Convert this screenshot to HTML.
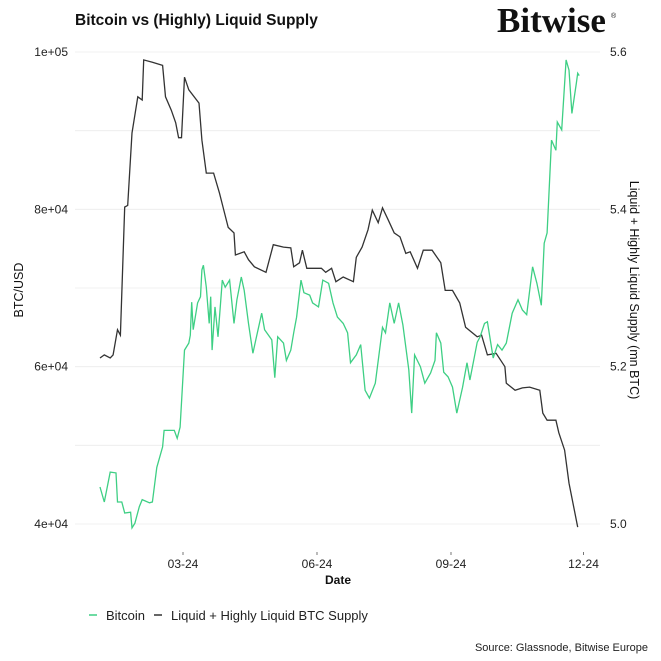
<!DOCTYPE html>
<html><head><meta charset="utf-8"><style>
html,body{margin:0;padding:0;background:#fff;}
svg{display:block;font-family:"Liberation Sans",Arial,sans-serif;}
</style></head><body>
<svg id="chart" width="661" height="661" viewBox="0 0 661 661">
<text x="75" y="25" font-size="15.5" font-weight="bold" fill="#111">Bitcoin vs (Highly) Liquid Supply</text>
<text x="497" y="32" font-family="Liberation Serif, serif" font-size="35" font-weight="bold" fill="#111">Bitwise</text>
<text x="611" y="18" font-size="7" fill="#111">®</text>
<g id="grid"></g>
<g id="series"></g>
<g id="axes"></g>
<text transform="translate(23,290) rotate(-90)" text-anchor="middle" font-size="12.5" fill="#111">BTC/USD</text>
<text transform="translate(630,290) rotate(90)" text-anchor="middle" font-size="12.5" fill="#111">Liquid + Highly Liquid Supply (mn BTC)</text>
<text x="338" y="584" text-anchor="middle" font-size="12" font-weight="bold" fill="#111">Date</text>
<g>
<line x1="89" y1="615" x2="97" y2="615" stroke="#3ecf84" stroke-width="1.5"/>
<text x="106" y="620" font-size="13" fill="#222">Bitcoin</text>
<line x1="154" y1="615" x2="162" y2="615" stroke="#333" stroke-width="1.5"/>
<text x="171" y="620" font-size="13" fill="#222">Liquid + Highly Liquid BTC Supply</text>
</g>
<text x="648" y="651" text-anchor="end" font-size="11" fill="#222">Source: Glassnode, Bitwise Europe</text>
</svg>
<script>
const btcDays=[3,6,10,14,15,18,20,24,25,27,30,32,37,39,42,46,47,54,56,58,61,64,65,66,67,70,72,73,74,76,78,79,80,82,84,87,89,92,95,97,100,102,105,108,110,114,116,121,123,125,129,131,134,136,138,141,143,147,149,153,156,160,163,166,170,173,175,179,182,185,188,192,197,199,202,205,208,211,215,217,219,223,226,230,233,234,237,239,242,245,248,252,255,257,262,264,267,269,273,276,279,282,286,290,293,296,300,303,306,308,310,313,316,317,320,323,325,327,330,331,332];
const btcPrice=[44700,42800,46600,46500,42800,42800,41400,41500,39500,40100,42200,43100,42700,42800,47200,49800,51900,51900,50900,52300,62100,63000,64000,68200,64700,68100,68900,72300,72900,70100,65500,68900,62100,67600,63800,71000,70100,71000,65500,68500,71400,69700,65500,61700,63400,66800,64700,63400,58600,63800,63000,60800,62100,64300,66300,71000,69400,69100,68100,67600,71000,70600,68100,66300,65500,64300,60500,61500,62800,57000,56000,57900,65000,64300,68100,65500,68100,65300,59600,54100,61500,60000,57900,59200,60800,64300,63000,59300,58700,57400,54100,57400,60500,58300,63100,63800,65500,65700,61100,62800,62100,63000,66800,68500,67200,66600,72700,70600,67800,75700,77000,88800,87500,91100,90100,99000,97700,92200,96000,97300,97000];
const supDays=[3,6,10,12,15,17,20,22,25,29,32,33,39,46,48,52,55,57,59,61,64,71,73,76,81,85,88,91,95,96,102,105,109,117,122,129,134,136,140,142,145,155,158,162,165,170,177,179,183,187,190,194,197,201,205,209,213,216,221,225,231,237,240,245,250,254,262,265,269,275,281,282,288,293,298,305,307,310,316,318,322,325,331];
const supply=[5.211,5.215,5.211,5.215,5.247,5.240,5.403,5.405,5.497,5.543,5.539,5.590,5.587,5.583,5.543,5.526,5.510,5.491,5.491,5.568,5.552,5.535,5.488,5.446,5.446,5.421,5.399,5.377,5.370,5.342,5.346,5.336,5.327,5.320,5.355,5.352,5.351,5.327,5.332,5.348,5.325,5.325,5.320,5.325,5.308,5.314,5.308,5.339,5.352,5.374,5.399,5.383,5.402,5.386,5.370,5.365,5.344,5.346,5.325,5.348,5.348,5.332,5.297,5.297,5.281,5.250,5.238,5.240,5.215,5.217,5.200,5.179,5.170,5.173,5.174,5.170,5.141,5.132,5.132,5.116,5.094,5.052,4.996];
const leftTicks=[40000,60000,80000,100000];
const leftTickLabels=["4e+04","6e+04","8e+04","1e+05"];
const rightTicks=[5.0,5.2,5.4,5.6];
const rightTickLabels=["5.0","5.2","5.4","5.6"];
const xTickDays=[60,152,244,335];
const xTickLabels=["03-24","06-24","09-24","12-24"];

const NS="http://www.w3.org/2000/svg";
const Y0=524,Y1=52;
function xs(d){return 183+(d-60)*1.4565;}
function yl(v){return Y0-(v-40000)/60000*(Y0-Y1);}
function yr(v){return Y0-(v-5.0)/0.6*(Y0-Y1);}
function mk(tag,attrs,parent){const e=document.createElementNS(NS,tag);for(const k in attrs)e.setAttribute(k,attrs[k]);parent.appendChild(e);return e;}
const grid=document.getElementById('grid'),axes=document.getElementById('axes'),series=document.getElementById('series');
for(let v=40000;v<=100000;v+=10000){
  const g=mk('line',{x1:75,x2:600,y1:yl(v),y2:yl(v),stroke:'#ececec','stroke-width':0.8},grid);
  
  
}
leftTicks.forEach((v,i)=>{
  const t=mk('text',{x:68,y:yl(v)+4,'text-anchor':'end','font-size':12,fill:'#222'},axes);
  t.textContent=leftTickLabels[i];
  
  
});
rightTicks.forEach((v,i)=>{
  const t=mk('text',{x:610,y:yr(v)+4,'font-size':12,fill:'#222'},axes);
  t.textContent=rightTickLabels[i];
  
  
});
xTickDays.forEach((d,i)=>{
  const tk=mk('line',{x1:xs(d),x2:xs(d),y1:552,y2:555,stroke:'#555','stroke-width':0.8},axes);
  
  
  const t=mk('text',{x:xs(d),y:568,'text-anchor':'middle','font-size':12,fill:'#222'},axes);
  t.textContent=xTickLabels[i];
  
  
});
const p1=mk('path',{d:supDays.map((d,i)=>(i?'L':'M')+xs(d).toFixed(1)+','+yr(supply[i]).toFixed(1)).join(''),fill:'none',stroke:'#333','stroke-width':1.3},series);


const p2=mk('path',{d:btcDays.map((d,i)=>(i?'L':'M')+xs(d).toFixed(1)+','+yl(btcPrice[i]).toFixed(1)).join(''),fill:'none',stroke:'#3ecf84','stroke-width':1.3},series);


</script>
</body></html>
